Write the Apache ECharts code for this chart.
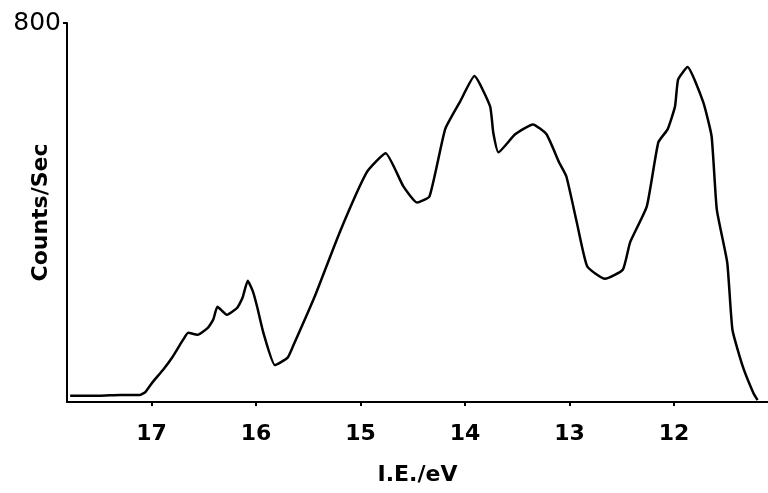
<!DOCTYPE html>
<html>
<head>
<meta charset="utf-8">
<script src="https://cdn.jsdelivr.net/npm/echarts@6/dist/echarts.min.js"></script>
<style>
  html, body { margin: 0; padding: 0; background: #fff; }
  #chart { width: 768px; height: 493px; }
</style>
</head>
<body>
<div id="chart"></div>
<script>
// ionisation energy (eV) and count rate
var energy = [17.78, 17.50, 17.30, 17.11, 17.06, 16.99, 16.89, 16.80, 16.70, 16.65,
  16.56, 16.46, 16.41, 16.37, 16.28, 16.18, 16.13, 16.08, 16.03, 15.99,
  15.93, 15.82, 15.70, 15.65, 15.44, 15.20, 14.94, 14.76, 14.59, 14.46,
  14.34, 14.19, 14.05, 13.91, 13.76, 13.73, 13.68, 13.52, 13.35, 13.22,
  13.10, 13.03, 12.93, 12.83, 12.66, 12.49, 12.42, 12.26, 12.15, 12.06,
  11.99, 11.96, 11.87, 11.72, 11.64, 11.59, 11.49, 11.44, 11.34, 11.24, 11.20];
var counts = [13, 13, 15, 15, 21, 42, 68, 95, 131, 146,
  142, 157, 174, 201, 184, 199, 220, 256, 233, 201,
  146, 78, 93, 116, 222, 358, 485, 525, 455, 421,
  434, 576, 633, 688, 624, 569, 527, 565, 586, 565,
  506, 476, 379, 286, 260, 279, 337, 413, 548, 576,
  624, 681, 707, 633, 561, 406, 294, 152, 74, 19, 4];
var xTicks = [17, 16, 15, 14, 13, 12];
var yTicks = [800];

var points = energy.map(function (e, i) { return [e, counts[i]]; });

var chart = echarts.init(document.getElementById('chart'));
chart.setOption({
  animation: false,
  backgroundColor: '#fff',
  grid: { left: 67, right: 0, top: 23, bottom: 91, containLabel: false, outerBoundsMode: 'none' },
  xAxis: {
    type: 'value',
    inverse: true,
    min: 11.1,
    max: 17.81,
    name: 'I.E./eV',
    nameLocation: 'middle',
    nameGap: 62,
    nameMoveOverlap: false,
    nameTextStyle: { fontFamily: 'DejaVu Sans', fontWeight: 'bold', fontSize: 22, color: '#000' },
    axisLine: { lineStyle: { color: '#000', width: 2 } },
    axisTick: { show: true, customValues: xTicks, length: 4, inside: false, lineStyle: { color: '#000', width: 2 } },
    axisLabel: { customValues: xTicks, margin: 21, fontFamily: 'DejaVu Sans', fontWeight: 'bold', fontSize: 22, color: '#000' },
    splitLine: { show: false }
  },
  yAxis: {
    type: 'value',
    min: 0,
    max: 800,
    name: 'Counts/Sec',
    nameLocation: 'middle',
    nameGap: 15,
    nameRotate: 90,
    nameMoveOverlap: false,
    nameTextStyle: { fontFamily: 'DejaVu Sans', fontWeight: 'bold', fontSize: 22, color: '#000' },
    axisLine: { show: true, lineStyle: { color: '#000', width: 2 } },
    axisTick: { show: true, customValues: yTicks, length: 4, lineStyle: { color: '#000', width: 2 } },
    axisLabel: { customValues: yTicks, margin: 6, fontFamily: 'DejaVu Sans', fontSize: 25, color: '#000' },
    splitLine: { show: false }
  },
  series: [{
    type: 'line',
    data: points,
    showSymbol: false,
    smooth: 0.15,
    lineStyle: { color: '#000', width: 2.5 }
  }]
});
</script>
</body>
</html>
